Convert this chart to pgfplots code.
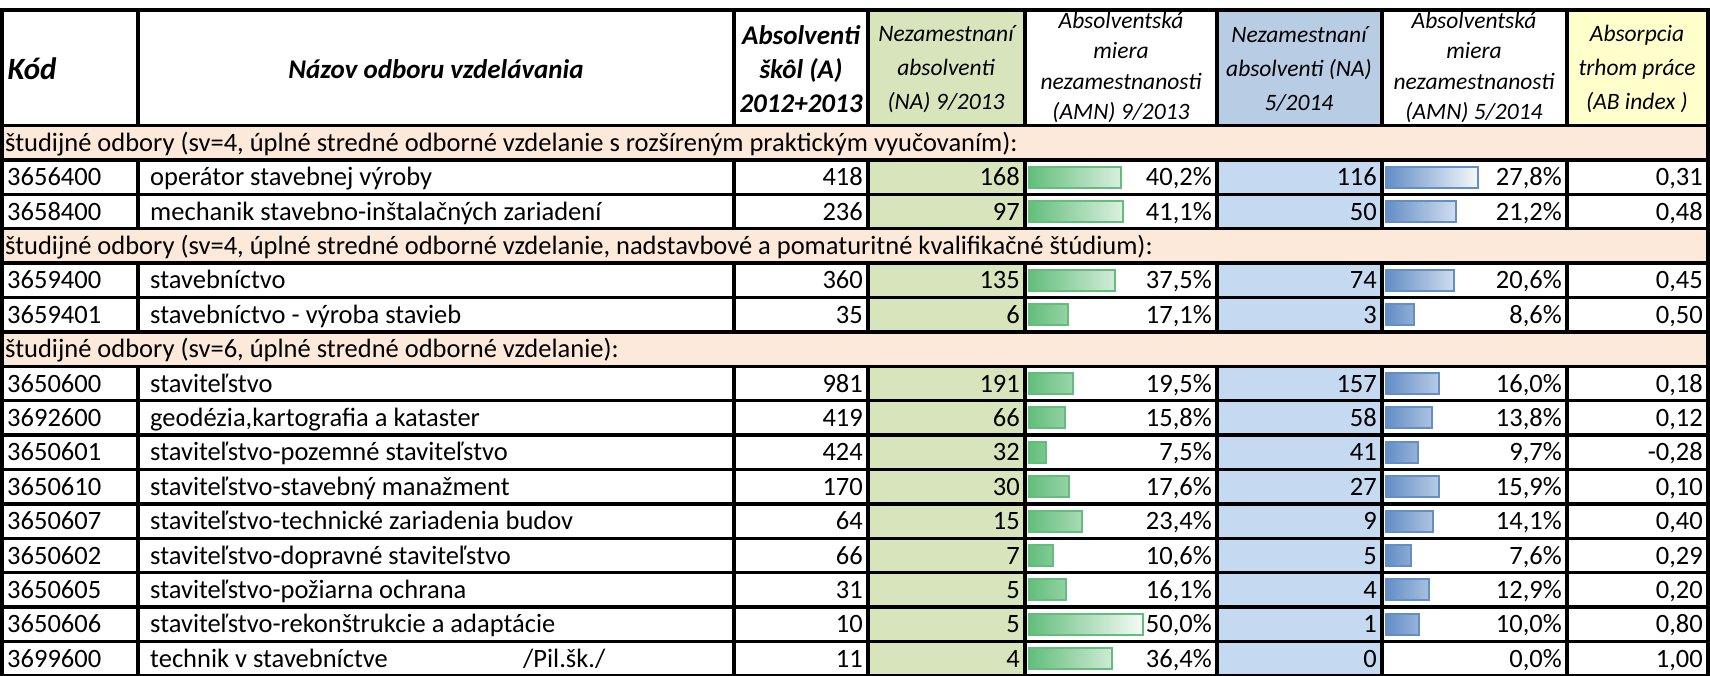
\documentclass[border=0pt]{standalone}
\usepackage{pgfplots}
\pgfplotsset{compat=1.18}
\usepackage{pgfplotstable}
\usepackage{fontspec}
\setmainfont{Carlito}

\definecolor{gfill}{HTML}{D8E4BC}
\definecolor{bfill}{HTML}{C5D9F1}
\definecolor{bhead}{HTML}{B8CCE4}
\definecolor{yhead}{HTML}{FFFFCC}
\definecolor{peach}{HTML}{FDE9D9}
\definecolor{gbar}{HTML}{63BE7B}
\definecolor{bbar}{HTML}{638EC6}

\newcommand\bodyfont{\fontsize{26.5}{30}\selectfont}
\newcommand\headfont{\fontsize{23.5}{34}\selectfont\itshape}
\newcommand\headfontiv{\fontsize{23.5}{30.5}\selectfont\itshape}
\newcommand\boldhead{\fontsize{27}{34}\selectfont\bfseries\itshape}

% row index -> vertical centre of the row (px from the top)
\newcommand\rowy{125.5+34.4*(\thisrow{row}+0.5)}

\pgfplotstableread{
row code name note A NA13 AMN13 NA14 AMN14 AB
1 3656400 {operátor stavebnej výroby} {} 418 168 40.2 116 27.8 0.31
2 3658400 {mechanik stavebno-inštalačných zariadení} {} 236 97 41.1 50 21.2 0.48
4 3659400 {stavebníctvo} {} 360 135 37.5 74 20.6 0.45
5 3659401 {stavebníctvo - výroba stavieb} {} 35 6 17.1 3 8.6 0.50
7 3650600 {staviteľstvo} {} 981 191 19.5 157 16.0 0.18
8 3692600 {geodézia,kartografia a kataster} {} 419 66 15.8 58 13.8 0.12
9 3650601 {staviteľstvo-pozemné staviteľstvo} {} 424 32 7.5 41 9.7 -0.28
10 3650610 {staviteľstvo-stavebný manažment} {} 170 30 17.6 27 15.9 0.10
11 3650607 {staviteľstvo-technické zariadenia budov} {} 64 15 23.4 9 14.1 0.40
12 3650602 {staviteľstvo-dopravné staviteľstvo} {} 66 7 10.6 5 7.6 0.29
13 3650605 {staviteľstvo-požiarna ochrana} {} 31 5 16.1 4 12.9 0.20
14 3650606 {staviteľstvo-rekonštrukcie a adaptácie} {} 10 5 50.0 1 10.0 0.80
15 3699600 {technik v stavebníctve} {/Pil.šk./} 11 4 36.4 0 0.0 1.00
}\rows

\pgfplotstableread{
row label
0 {študijné odbory (sv=4, úplné stredné odborné vzdelanie s rozšíreným praktickým vyučovaním):}
3 {študijné odbory (sv=4, úplné stredné odborné vzdelanie, nadstavbové a pomaturitné kvalifikačné štúdium):}
6 {študijné odbory (sv=6, úplné stredné odborné vzdelanie):}
}\sections

\pgfplotsset{
  cell/.style={
    width=1710pt, height=675pt, scale only axis,
    xmin=0, xmax=1710, ymin=0, ymax=675, y dir=reverse,
    enlargelimits=false, hide axis, clip=false,
    at={(0,0)}, anchor=south west,
  },
  txt/.style={draw=none, nodes near coords, point meta=explicit symbolic,
    every node near coord/.style={font=\bodyfont, anchor=base #1,
      yshift=-8.6pt, inner sep=0pt}},
  num/.style 2 args={draw=none, point meta=explicit,
    nodes near coords={\pgfmathprintnumber[fixed, fixed zerofill,
      precision=#1, use comma, assume math mode=true]{\pgfplotspointmeta}#2},
    every node near coord/.style={font=\bodyfont, anchor=base east,
      yshift=-8.6pt, inner sep=0pt}},
}

\begin{document}
\begin{tikzpicture}
\useasboundingbox (0,0) rectangle (1710pt,675pt);
\clip (0,0) rectangle (1710pt,675pt);

% data bars, AMN 9/2013: zero at x=1029, 2.28 px per percent
\begin{axis}[cell, xmin=-451.32, xmax=298.68]
\addplot[xbar, bar width=21pt, bar shift=0pt, draw=gbar, line width=2pt,
  left color=gbar, right color=gbar!6!white]
  table[x=AMN13, y expr=\rowy] {\rows};
\end{axis}

% data bars, AMN 5/2014: zero at x=1386, 3.31 px per percent
\begin{axis}[cell, xmin=-418.73, xmax=97.89]
\addplot[xbar, bar width=21pt, bar shift=0pt, draw=bbar, line width=2pt,
  left color=bbar, right color=bbar!6!white, skip coords between index={12}{13}]
  table[x=AMN14, y expr=\rowy] {\rows};
\end{axis}

\begin{axis}[cell]
% cell fills
\fill[gfill] (axis cs:868,10) rectangle (axis cs:1025,125.5);
\fill[bhead] (axis cs:1217,10) rectangle (axis cs:1382,125.5);
\fill[yhead] (axis cs:1567,10) rectangle (axis cs:1708,125.5);
\pgfplotsinvokeforeach{0,3,6}{
  \fill[peach] (axis cs:2,125.5+34.4*#1) rectangle (axis cs:1708,125.5+34.4*#1+34.4);
}
\fill[gfill] (axis cs:868,159.9) rectangle (axis cs:1025,228.7);
\fill[gfill] (axis cs:868,263.1) rectangle (axis cs:1025,331.9);
\fill[gfill] (axis cs:868,366.3) rectangle (axis cs:1025,676);
\fill[bfill] (axis cs:1217,159.9) rectangle (axis cs:1382,228.7);
\fill[bfill] (axis cs:1217,263.1) rectangle (axis cs:1382,331.9);
\fill[bfill] (axis cs:1217,366.3) rectangle (axis cs:1382,676);

% header
\node[anchor=west, font=\fontsize{31}{34}\selectfont\bfseries\itshape] at (axis cs:4,69) {Kód};
\node[font=\boldhead] at (axis cs:436,69) {Názov odboru vzdelávania};
\node[align=center, font=\boldhead] at (axis cs:801,69) {Absolventi\\škôl (A)\\2012+2013};
\node[align=center, font=\headfont] at (axis cs:946,69) {Nezamestnaní\\absolventi\\(NA) 9/2013};
\node[align=center, font=\headfontiv] at (axis cs:1121,67.5) {Absolventská\\miera\\nezamestnanosti\\(AMN) 9/2013};
\node[align=center, font=\headfont] at (axis cs:1299,69) {Nezamestnaní\\absolventi (NA)\\5/2014};
\node[align=center, font=\headfontiv] at (axis cs:1474,67.5) {Absolventská\\miera\\nezamestnanosti\\(AMN) 5/2014};
\node[align=center, font=\headfont] at (axis cs:1637,69) {Absorpcia\\trhom práce\\(AB index )};

% section rows and cell texts
\addplot[txt=west] table[x expr=5, y expr=\rowy, meta=label] {\sections};
\addplot[txt=west] table[x expr=7, y expr=\rowy, meta=code] {\rows};
\addplot[txt=west] table[x expr=150, y expr=\rowy, meta=name] {\rows};
\addplot[txt=west] table[x expr=523, y expr=\rowy, meta=note] {\rows};
\addplot[num={0}{}] table[x expr=863, y expr=\rowy, meta=A] {\rows};
\addplot[num={0}{}] table[x expr=1020, y expr=\rowy, meta=NA13] {\rows};
\addplot[num={1}{\%}] table[x expr=1212, y expr=\rowy, meta=AMN13] {\rows};
\addplot[num={0}{}] table[x expr=1377, y expr=\rowy, meta=NA14] {\rows};
\addplot[num={1}{\%}] table[x expr=1562, y expr=\rowy, meta=AMN14] {\rows};
\addplot[num={2}{}] table[x expr=1703, y expr=\rowy, meta=AB] {\rows};

% grid
\begin{scope}[line width=3.5pt, line cap=rect]
\draw (axis cs:2,10) -- (axis cs:1708,10);
\pgfplotsinvokeforeach{0,...,16}{
  \draw (axis cs:2,125.5+34.4*#1) -- (axis cs:1708,125.5+34.4*#1);
}
\draw (axis cs:2,10) -- (axis cs:2,676);
\draw (axis cs:1708,10) -- (axis cs:1708,676);
\pgfplotsinvokeforeach{138,734,868,1025,1217,1382,1567}{
  \draw (axis cs:#1,10) -- (axis cs:#1,125.5);
  \draw (axis cs:#1,159.9) -- (axis cs:#1,228.7);
  \draw (axis cs:#1,263.1) -- (axis cs:#1,331.9);
  \draw (axis cs:#1,366.3) -- (axis cs:#1,676);
}
\end{scope}
\end{axis}
\end{tikzpicture}
\end{document}
